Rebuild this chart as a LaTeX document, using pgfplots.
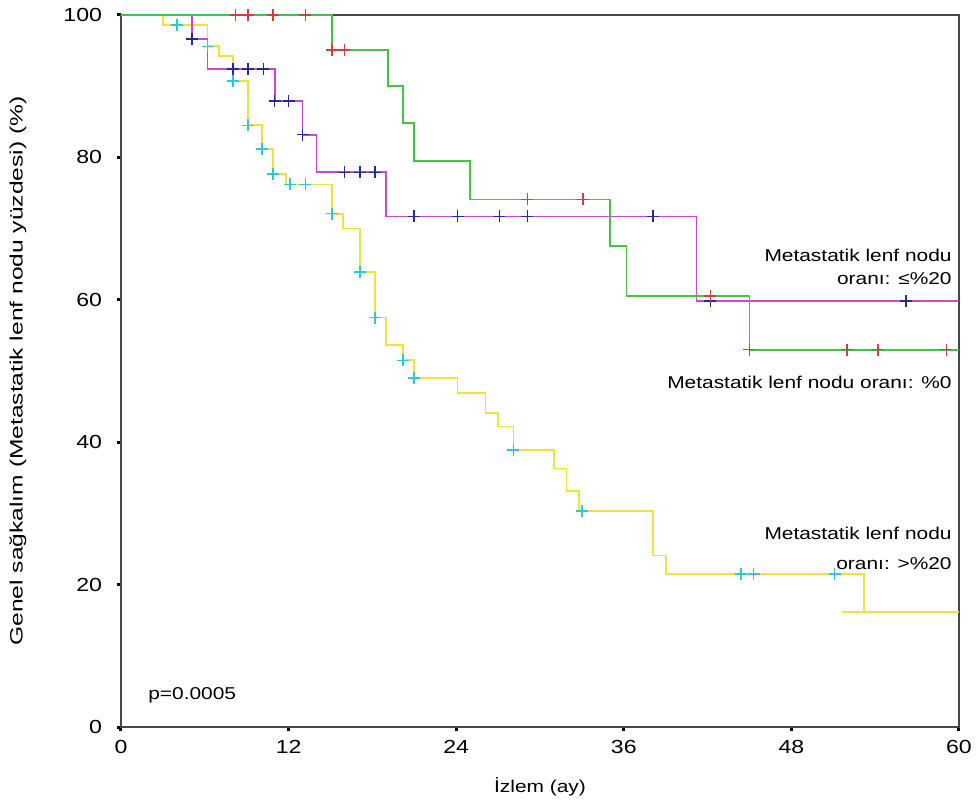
\documentclass[border=0pt]{standalone}
\usepackage{fontspec}
\setmainfont[FakeStretch=1.22]{Liberation Sans}
\newfontfamily\ylabfont[FakeStretch=1.37]{Liberation Sans}
\usepackage{pgfplots}
\pgfplotsset{compat=1.18}

\definecolor{kmgreen}{RGB}{70,195,70}
\definecolor{kmmag}{RGB}{205,70,205}
\definecolor{kmyel}{RGB}{240,225,60}
\definecolor{cred}{RGB}{215,60,60}
\definecolor{cblue}{RGB}{40,40,150}
\definecolor{ccyan}{RGB}{50,200,210}
\definecolor{axgray}{RGB}{70,70,70}

\begin{document}
\begin{tikzpicture}
\begin{axis}[
    scale only axis,
    width=419bp, height=356bp,
    xmin=0, xmax=60, ymin=0, ymax=100,
    xtick={0,12,24,36,48,60},
    ytick={0,20,40,60,80,100},
    xtick pos=lower, ytick pos=left,
    tick align=outside,
    major tick length=2bp,
    tick style={black, line width=1.5bp},
    axis line style={axgray, line width=1bp},
    /pgf/number format/assume math mode=true,
    ticklabel style={font=\fontsize{9.5}{11}\selectfont},
    xticklabel style={anchor=base, yshift=-11bp},
    yticklabel style={anchor=east, xshift=-4bp},
    xlabel={İzlem (ay)},
    xlabel style={at={(axis description cs:0.5,-0.0915)}, anchor=base, font=\fontsize{8.6}{11}\selectfont},
    ylabel={Genel sağkalım (Metastatik lenf nodu yüzdesi) (\%)},
    ylabel style={at={(axis description cs:-0.123,0.5)}, anchor=center, font=\ylabfont\fontsize{9}{11}\selectfont},
    clip=false,
    every axis plot/.append style={line width=0.9bp},
]

% >%20 group
\addplot[kmyel, no marks] coordinates {
    (0,100)(3,100)(3,98.6)(6.2,98.6)(6.2,95.6)(7,95.6)(7,94.2)(8,94.2)(8,90.7)
    (9.1,90.7)(9.1,84.5)(10.1,84.5)(10.1,81.2)(10.9,81.2)(10.9,77.7)(11.8,77.7)
    (11.8,76.2)(15.1,76.2)(15.1,72.1)(15.9,72.1)(15.9,70.0)(17.1,70.0)(17.1,63.9)
    (18.2,63.9)(18.2,57.5)(19,57.5)(19,53.7)(20.2,53.7)(20.2,51.5)(21,51.5)
    (21,49.0)(24.1,49.0)(24.1,46.9)(26.1,46.9)(26.1,44.1)(27,44.1)(27,42.2)
    (28.1,42.2)(28.1,38.9)(31,38.9)(31,36.3)(31.9,36.3)(31.9,33.2)(32.8,33.2)
    (32.8,30.3)(38.1,30.3)(38.1,24.1)(39,24.1)(39,21.5)(53.2,21.5)(53.2,16.2)(60,16.2)
};
\addplot[kmyel, no marks] coordinates {(51.6,16.2)(53.2,16.2)};

% <=%20 group
\addplot[kmmag, no marks] coordinates {
    (0,100)(5.1,100)(5.1,96.6)(6.2,96.6)(6.2,92.4)(11,92.4)(11,87.9)(13,87.9)
    (13,83.2)(14,83.2)(14,77.9)(19,77.9)(19,71.7)(41.2,71.7)(41.2,59.8)(60,59.8)
};

% %0 group
\addplot[kmgreen, no marks] coordinates {
    (0,100)(15.1,100)(15.1,95.1)(19.1,95.1)(19.1,90.0)(20.2,90.0)(20.2,84.8)
    (21,84.8)(21,79.5)(25,79.5)(25,74.1)(35,74.1)(35,67.6)(36.2,67.6)(36.2,60.5)
    (45,60.5)(45,53.0)(60,53.0)
};

% censored cases
\addplot[only marks, mark=+, mark size=3bp, ccyan, mark options={line width=0.8bp}] coordinates {
    (4,98.6)(6.2,95.6)(8,90.7)(9.1,84.5)(10.1,81.2)(10.9,77.7)(12.1,76.2)(13.2,76.2)
    (15.1,72.1)(17.1,63.9)(18.2,57.5)(20.2,51.5)(21,49.0)(28.1,38.9)(33,30.3)
    (44.4,21.5)(45.3,21.5)(51.1,21.5)
};
\addplot[only marks, mark=+, mark size=3bp, cblue, mark options={line width=0.8bp}] coordinates {
    (5.1,96.6)(8,92.4)(9.1,92.4)(10.2,92.4)(11,87.9)(12,87.9)(13,83.2)(16,77.9)
    (17.1,77.9)(18.2,77.9)(21,71.7)(24.1,71.7)(27.1,71.7)(29.1,71.7)(38.1,71.7)
    (42.2,59.8)(56.2,59.8)
};
\addplot[only marks, mark=+, mark size=3bp, cred, mark options={line width=0.8bp}] coordinates {
    (8.2,100)(9.1,100)(10.9,100)(13.2,100)(15.1,95.1)(16,95.1)(29.1,74.1)(33.1,74.1)
    (42.2,60.5)(45,53)(52,53)(54.2,53)(59.1,53)
};

\begin{scope}[font=\fontsize{8.6}{11}\selectfont]
\node[anchor=base east, inner sep=0pt] at (axis cs:59.5,65.4) {Metastatik lenf nodu};
\node[anchor=base east, inner sep=0pt] at (axis cs:59.5,62.2) {oranı: ≤\%20};
\node[anchor=base east, inner sep=0pt] at (axis cs:59.5,47.5) {Metastatik lenf nodu oranı: \%0};
\node[anchor=base east, inner sep=0pt] at (axis cs:59.5,26.3) {Metastatik lenf nodu};
\node[anchor=base east, inner sep=0pt] at (axis cs:59.5,22.1) {oranı: >\%20};
\node[anchor=base west, inner sep=0pt] at (axis cs:1.93,3.8) {p=0.0005};
\end{scope}

\path (axis cs:0,0) ++(-60.5bp,-38.5bp) rectangle ++(489.5bp,402bp);
\end{axis}
\end{tikzpicture}
\end{document}
